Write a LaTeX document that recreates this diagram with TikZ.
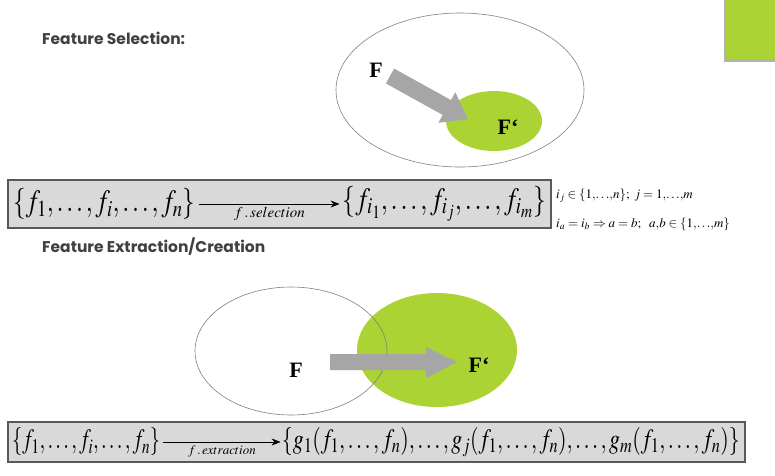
\documentclass[tikz,border=0pt]{standalone}
\usepackage{mathptmx}
\usepackage{fontspec}
\setmainfont{Liberation Serif}
\newfontfamily\headfont{Poppins}
\usetikzlibrary{arrows.meta,positioning}
\definecolor{fsgreen}{HTML}{ABD333}
\definecolor{fsgray}{HTML}{A6A6A6}
\definecolor{fsbox}{HTML}{D9D9D9}
\definecolor{fstext}{HTML}{404040}

\begin{document}
\begin{tikzpicture}[x=1pt, y=-1pt,
    heading/.style={anchor=west, inner sep=0pt, text=fstext, font=\headfont\bfseries\fontsize{15.5}{17}\selectfont},
    setname/.style={inner sep=0pt, font=\bfseries\fontsize{22}{24}\selectfont},
    mapbox/.style={draw=black!65, line width=1.2pt, fill=fsbox},
    mathset/.style={inner sep=0pt},
    maparrow/.style={-{Stealth[length=9pt, width=7pt]}, line width=0.9pt},
    maplabel/.style={below, inner sep=3pt},
    sidenote/.style={anchor=west, inner sep=0pt, font=\fontsize{13}{15}\selectfont}
]
    \useasboundingbox (0,0) rectangle (775,475);

    % corner mark
    \fill[black!30] (724,0) rectangle (775,62);
    \fill[fsgreen] (726,0) rectangle (775,59);

    % feature selection
    \node[heading] (hsel) at (42,38) {Feature Selection:};

    \draw[black!50, line width=0.6pt] (460,90) ellipse [x radius=124, y radius=77];
    \fill[fsgreen] (494,121) ellipse [x radius=48, y radius=30];
    \begin{scope}[shift={(390,76)}, rotate=-29]
        \fill[fsgray] (0,-8.5) -- (65,-8.5) -- (65,-17.5) -- (89,0) -- (65,17.5) -- (65,8.5) -- (0,8.5) -- cycle;
    \end{scope}
    \node[setname] (fa) at (376,70) {F};
    \node[setname] (fb) at (508,127) {F‘};

    \draw[mapbox] (8,180) rectangle (551,228);
    \node[mathset, anchor=west] (sa) at (13,204)
        {\resizebox{182pt}{\height}{\fontsize{31}{33}\selectfont$\{f_1,\dots,f_i,\dots,f_n\}$}};
    \node[mathset, anchor=east] (ta) at (546,204)
        {\resizebox{203pt}{\height}{\fontsize{31}{33}\selectfont$\{f_{i_1},\dots,f_{i_j},\dots,f_{i_m}\}$}};
    \path (sa.east) ++(4,0) coordinate (sa0) (ta.west) ++(-3,0) coordinate (ta0);
    \draw[maparrow] (sa0) -- node[maplabel, font=\fontsize{15}{17}\selectfont] {$f\,.\,selection$} (ta0);

    \node[sidenote] (na) at (556,196) {$i_j\in\{1{,}{\ldots}{,}n\};\ j=1{,}{\ldots}{,}m$};
    \node[sidenote] (nb) at (556,224) {$i_a=i_b\Rightarrow a=b;\ \ a{,}b\in\{1{,}{\ldots}{,}m\}$};

    % feature extraction
    \node[heading] (hext) at (42,247) {Feature Extraction/Creation};

    \fill[fsgreen] (437,350) ellipse [x radius=80, y radius=57];
    \draw[black!50, line width=0.6pt] (291,351) ellipse [x radius=96, y radius=64];
    \fill[fsgray] (330,354) -- (426,354) -- (426,347) -- (457,362) -- (426,378) -- (426,370) -- (330,370) -- cycle;
    \node[setname] (fc) at (296,370) {F};
    \node[setname] (fd) at (479,365) {F‘};

    \draw[mapbox] (8,422) rectangle (745,462);
    \node[mathset, anchor=west] (sb) at (12,442)
        {\resizebox{148pt}{\height}{\fontsize{28}{30}\selectfont$\{f_1,\dots,f_i,\dots,f_n\}$}};
    \node[mathset, anchor=east] (tb) at (740,442)
        {\resizebox{458pt}{\height}{\fontsize{28}{30}\selectfont$\{g_1(f_1,\dots,f_n),\dots,g_j(f_1,\dots,f_n),\dots,g_m(f_1,\dots,f_n)\}$}};
    \path (sb.east) ++(3,0) coordinate (sb0) (tb.west) ++(-1,0) coordinate (tb0);
    \draw[maparrow, line width=0.6pt] (sb0) -- node[maplabel, font=\fontsize{13}{15}\selectfont] {$f\,.\,extraction$} (tb0);
\end{tikzpicture}
\end{document}
